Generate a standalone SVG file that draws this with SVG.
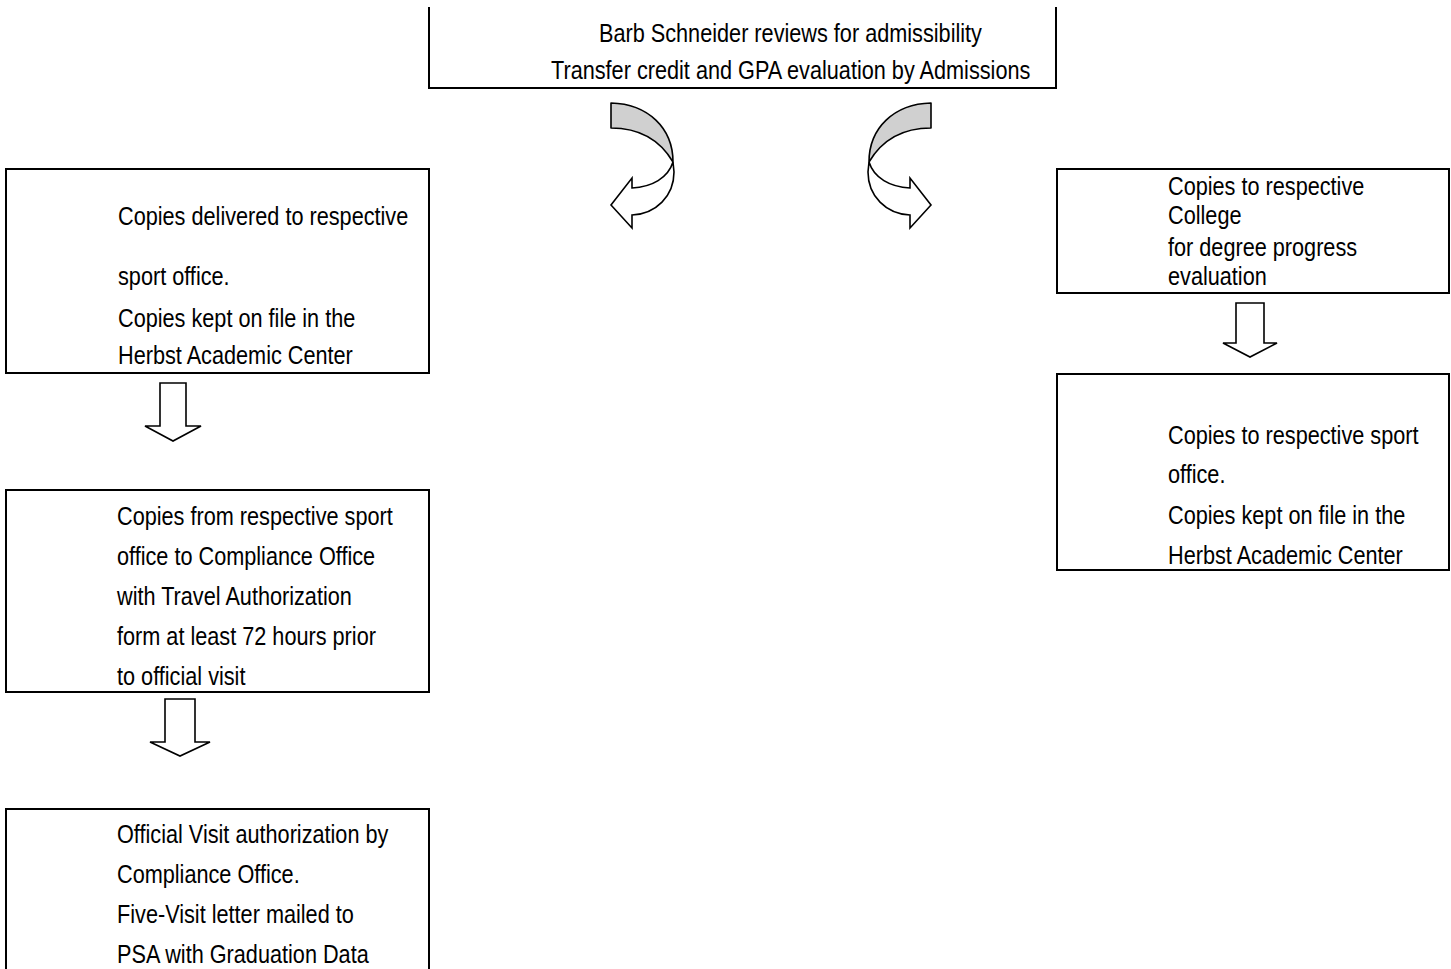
<svg xmlns="http://www.w3.org/2000/svg" width="1451" height="969" viewBox="0 0 1451 969">
<style>
.box{fill:#fff;stroke:#000;stroke-width:2}
.t{font-family:"Liberation Sans",Arial,sans-serif;font-size:25.5px;fill:#000}
.arr{fill:#fff;stroke:#000;stroke-width:1.6;stroke-linejoin:miter}
.back{fill:#d0d0d0;stroke:#000;stroke-width:1.6;stroke-linejoin:round}
</style>
<rect width="1451" height="969" fill="#fff"/>
<g id="connectors">
  <g id="curved-left">
    <path class="back" d="M611,103 C648,104 673,128 673,162 C660,140 640,128 611,128 Z"/>
    <path class="arr" d="M673,162 C668,178 652,187 632,188 L632,178 L611,205 L632,228 L632,215 C656,214 674,196 674,172 Z"/>
  </g>
  <g id="curved-right" transform="matrix(-1,0,0,1,1542,0)">
    <path class="back" d="M611,103 C648,104 673,128 673,162 C660,140 640,128 611,128 Z"/>
    <path class="arr" d="M673,162 C668,178 652,187 632,188 L632,178 L611,205 L632,228 L632,215 C656,214 674,196 674,172 Z"/>
  </g>
  <path id="down-1" class="arr" d="M160,383 H186 V426 H201 L173,441 L145,426 H160 Z"/>
  <path id="down-2" class="arr" d="M165,699 H195 V742 H210 L180,756 L150,742 H165 Z"/>
  <path id="down-3" class="arr" d="M1236,303 H1264 V343 H1277 L1250,357 L1223,343 H1236 Z"/>
</g>
<g id="node-top">
  <path d="M429,7 V88 H1056 V7" fill="none" stroke="#000" stroke-width="2"/>
  <text class="t" transform="translate(599 0) scale(0.85 1)"><tspan x="0" y="42">Barb Schneider reviews for admissibility</tspan></text>
  <text class="t" transform="translate(551 0) scale(0.85 1)"><tspan x="0" y="79">Transfer credit and GPA evaluation by Admissions</tspan></text>
</g>
<g id="node-a">
  <rect class="box" x="6" y="169" width="423" height="204"/>
  <text class="t" transform="translate(118 0) scale(0.85 1)"><tspan x="0" y="225">Copies delivered to respective</tspan><tspan x="0" y="285">sport office.</tspan><tspan x="0" y="327">Copies kept on file in the</tspan><tspan x="0" y="364">Herbst Academic Center</tspan></text>
</g>
<g id="node-b">
  <rect class="box" x="6" y="490" width="423" height="202"/>
  <text class="t" transform="translate(117 0) scale(0.85 1)"><tspan x="0" y="525">Copies from respective sport</tspan><tspan x="0" y="565">office to Compliance Office</tspan><tspan x="0" y="605">with Travel Authorization</tspan><tspan x="0" y="645">form at least 72 hours prior</tspan><tspan x="0" y="685">to official visit</tspan></text>
</g>
<g id="node-c">
  <rect class="box" x="6" y="809" width="423" height="200"/>
  <text class="t" transform="translate(117 0) scale(0.85 1)"><tspan x="0" y="843">Official Visit authorization by</tspan><tspan x="0" y="883">Compliance Office.</tspan><tspan x="0" y="923">Five-Visit letter mailed to</tspan><tspan x="0" y="963">PSA with Graduation Data</tspan></text>
</g>
<g id="node-d">
  <rect class="box" x="1057" y="169" width="392" height="124"/>
  <text class="t" transform="translate(1168 0) scale(0.85 1)"><tspan x="0" y="195">Copies to respective</tspan><tspan x="0" y="224">College</tspan><tspan x="0" y="256">for degree progress</tspan><tspan x="0" y="285">evaluation</tspan></text>
</g>
<g id="node-e">
  <rect class="box" x="1057" y="374" width="392" height="196"/>
  <text class="t" transform="translate(1168 0) scale(0.85 1)"><tspan x="0" y="444">Copies to respective sport</tspan><tspan x="0" y="483">office.</tspan><tspan x="0" y="524">Copies kept on file in the</tspan><tspan x="0" y="564">Herbst Academic Center</tspan></text>
</g>
</svg>
